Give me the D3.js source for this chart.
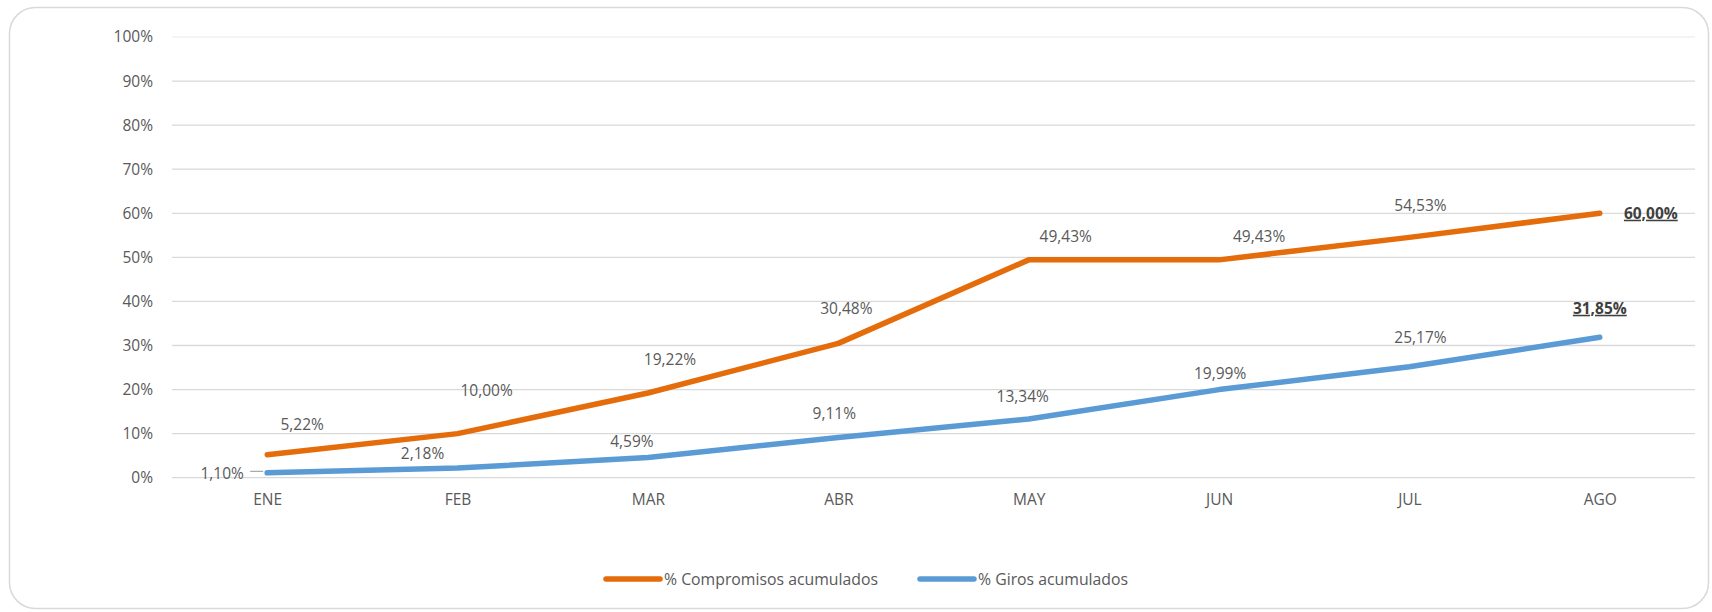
<!DOCTYPE html>
<html>
<head>
<meta charset="utf-8">
<script src="https://cdn.jsdelivr.net/npm/d3@7"></script>
<style>
  body { margin: 0; background: #fff; }
  svg { display: block; font-family: "Open Sans", sans-serif; }
</style>
</head>
<body>
<div id="chart"></div>
<script>
var width = 1712;
var height = 612;

// data
var meses = ['ENE', 'FEB', 'MAR', 'ABR', 'MAY', 'JUN', 'JUL', 'AGO'];
var compromisos = [5.22, 10.00, 19.22, 30.48, 49.43, 49.43, 54.53, 60.00];
var giros = [1.10, 2.18, 4.59, 9.11, 13.34, 19.99, 25.17, 31.85];
var yTicks = [0, 10, 20, 30, 40, 50, 60, 70, 80, 90, 100];
var nombres = ['% Compromisos acumulados', '% Giros acumulados'];

// where the data labels sit relative to their point (dx, dy)
var offCompromisos = [[35, -30], [29, -43], [22, -33], [8, -35], [37, -23], [40, -23], [11, -32], [51, 0]];
var offGiros = [[-45, 1], [-35, -15], [-16, -16], [-4, -24], [-6, -22], [1, -16], [11, -29], [0, -29]];

var colores = ['#E46C0A', '#5B9BD5'];

var svg = d3.select('#chart')
    .append('svg')
    .attr('width', width)
    .attr('height', height);

// rounded frame
svg.append('rect')
    .attr('x', 9.5).attr('y', 7.5)
    .attr('width', 1699).attr('height', 601)
    .attr('rx', 26).attr('ry', 26)
    .attr('fill', '#fff')
    .attr('stroke', '#d9d9d9')
    .attr('stroke-width', 1.5);

var x = d3.scalePoint()
    .domain(meses)
    .range([172, 1695])
    .padding(0.5);

var y = d3.scaleLinear()
    .domain([0, 100])
    .range([477.7, 37]);

// gridlines
svg.append('g').selectAll('line')
    .data(yTicks)
    .enter()
    .append('line')
    .attr('x1', 172).attr('x2', 1695)
    .attr('y1', function(d){ return y(d); })
    .attr('y2', function(d){ return y(d); })
    .attr('stroke', function(d){ return d == 100 ? '#f0f0f0' : '#d9d9d9'; })
    .attr('stroke-width', 1.3);

// y axis
var yAxis = svg.append('g')
    .attr('transform', 'translate(172,0)')
    .call(d3.axisLeft(y).tickValues(yTicks).tickSize(0).tickPadding(19)
        .tickFormat(function(d){ return d + '%'; }));
yAxis.select('.domain').remove();
yAxis.selectAll('text')
    .attr('fill', '#595959')
    .style('font-size', '15.5px')
    .style('font-family', '"Open Sans", sans-serif');

// x axis
var xAxis = svg.append('g')
    .attr('transform', 'translate(0,477.7)')
    .call(d3.axisBottom(x).tickSize(0).tickPadding(16));
xAxis.select('.domain').remove();
xAxis.selectAll('text')
    .attr('fill', '#595959')
    .style('font-size', '15.5px')
    .style('font-family', '"Open Sans", sans-serif');

var line = d3.line()
    .x(function(d, i){ return x(meses[i]); })
    .y(function(d){ return y(d); });

var series = [compromisos, giros];
var offsets = [offCompromisos, offGiros];

// leader line for the first blue label
svg.append('line')
    .attr('x1', x('ENE') - 17).attr('x2', x('ENE') - 4)
    .attr('y1', y(giros[0]) - 1.5).attr('y2', y(giros[0]) - 1.5)
    .attr('stroke', '#a6a6a6')
    .attr('stroke-width', 1.2);

series.forEach(function(s, k){
    svg.append('path')
        .datum(s)
        .attr('d', line)
        .attr('fill', 'none')
        .attr('stroke', colores[k])
        .attr('stroke-width', 5.5)
        .attr('stroke-linejoin', 'round')
        .attr('stroke-linecap', 'round');
});

var fmt = function(v){ return v.toFixed(2).replace('.', ',') + '%'; };

series.forEach(function(s, k){
    svg.append('g').selectAll('text')
        .data(s)
        .enter()
        .append('text')
        .attr('x', function(d, i){ return x(meses[i]) + offsets[k][i][0]; })
        .attr('y', function(d, i){ return y(d) + offsets[k][i][1]; })
        .attr('dy', '0.35em')
        .attr('text-anchor', 'middle')
        .attr('fill', function(d, i){ return i == s.length - 1 ? '#404040' : '#595959'; })
        .style('font-size', '15.5px')
        .style('font-weight', function(d, i){ return i == s.length - 1 ? 'bold' : 'normal'; })
        .style('text-decoration', function(d, i){ return i == s.length - 1 ? 'underline' : 'none'; })
        .text(fmt);
});

// legend
var legendX = [606, 920];
var leg = svg.append('g').selectAll('g')
    .data(nombres)
    .enter()
    .append('g')
    .attr('transform', function(d, i){ return 'translate(' + legendX[i] + ',579)'; });

leg.append('line')
    .attr('x1', 0).attr('x2', 54)
    .attr('stroke', function(d, i){ return colores[i]; })
    .attr('stroke-width', 5.5)
    .attr('stroke-linecap', 'round');

leg.append('text')
    .attr('x', 58)
    .attr('dy', '0.35em')
    .attr('fill', '#595959')
    .style('font-size', '15.8px')
    .text(function(d){ return d; });
</script>
</body>
</html>
